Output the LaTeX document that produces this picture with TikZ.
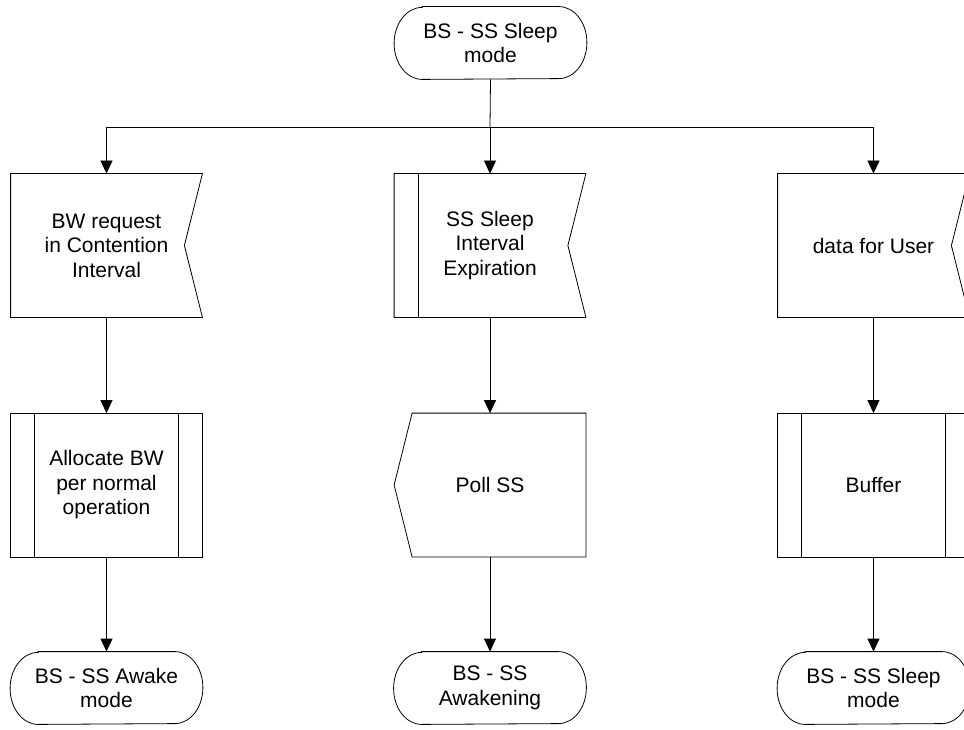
\documentclass[tikz,border=0pt]{standalone}
\usepackage{fontspec}
\setmainfont{Liberation Sans}
\usetikzlibrary{arrows.meta}

\tikzset{
  box/.style={minimum width=191pt, minimum height=143pt, inner sep=0pt,
    align=center, font=\fontsize{21}{24.5}\selectfont},
  term/.style={minimum width=192pt, minimum height=72pt, inner sep=0pt,
    align=center, font=\fontsize{21}{24.5}\selectfont},
  arr/.style={-{Triangle[width=12pt,length=13pt]}},
}

% outline macros drawn around named nodes
\newcommand{\signalin}[1]{%
  \draw (#1.north west) -- (#1.north east) -- ([xshift=-18pt]#1.east)
        -- (#1.south east) -- (#1.south west) -- cycle;}
\newcommand{\signalout}[1]{%
  \draw ([xshift=18pt]#1.north west) -- (#1.north east) -- (#1.south east)
        -- ([xshift=18pt]#1.south west) -- (#1.west) -- cycle;}
\newcommand{\leftbar}[1]{%
  \draw ([xshift=24pt]#1.north west) -- ([xshift=24pt]#1.south west);}
\newcommand{\rightbar}[1]{%
  \draw ([xshift=-24pt]#1.north east) -- ([xshift=-24pt]#1.south east);}
\newcommand{\procbox}[1]{%
  \draw (#1.north west) rectangle (#1.south east); \leftbar{#1}\rightbar{#1}}
\newcommand{\terminal}[1]{%
  \draw ([xshift=28pt]#1.north west) -- ([xshift=-28pt]#1.north east)
        arc[start angle=90, end angle=-90, x radius=28pt, y radius=36pt]
        -- ([xshift=28pt]#1.south west)
        arc[start angle=270, end angle=90, x radius=28pt, y radius=36pt]
        -- cycle;}

\begin{document}
\begin{tikzpicture}[x=1pt, y=-1pt, line width=0.8pt]
\useasboundingbox (0,0) rectangle (964,730);
\clip (0,0) rectangle (964,730);

% start
\node[term] (start) at (490.5,43) {BS - SS Sleep\\mode};
\terminal{start}

% first row: incoming events
\node[box] (req) at (106.5,245.5) {BW request\\in Contention\\Interval};
\signalin{req}
\node[box] (exp) at (490,245.5) {SS Sleep\\Interval\\Expiration};
\signalin{exp}\leftbar{exp}
\node[box] (dat) at (873.5,245.5) {data for User};
\signalin{dat}

% second row: actions
\node[box] (alloc) at (106.5,485) {Allocate BW\\per normal\\operation};
\procbox{alloc}
\node[box] (poll) at (490,485) {Poll SS};
\signalout{poll}
\node[box] (buf) at (873.5,485) {Buffer};
\procbox{buf}

% end states
\node[term] (awake) at (106.5,688) {BS - SS Awake\\mode};
\terminal{awake}
\node[term] (awaken) at (490,688) {BS - SS\\Awakening};
\terminal{awaken}
\node[term] (sleep) at (873.5,688) {BS - SS Sleep\\mode};
\terminal{sleep}

% connectors
\coordinate (split) at (490,127);
\draw (start.south) -- (split);
\draw[arr] (split) -| (req.north);
\draw[arr] (split) -- (exp.north);
\draw[arr] (split) -| (dat.north);

\draw[arr] (req.south) -- (alloc.north);
\draw[arr] (exp.south) -- (poll.north);
\draw[arr] (dat.south) -- (buf.north);

\draw[arr] (alloc.south) -- (awake.north);
\draw[arr] (poll.south) -- (awaken.north);
\draw[arr] (buf.south) -- (sleep.north);
\end{tikzpicture}
\end{document}
